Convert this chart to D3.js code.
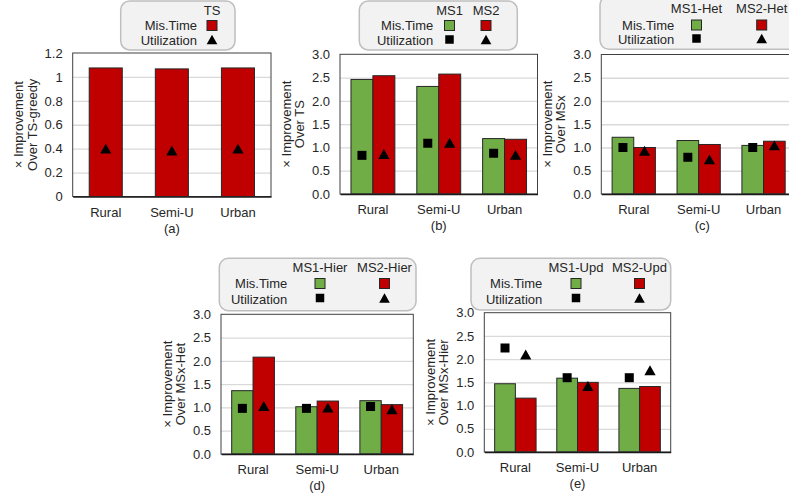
<!DOCTYPE html>
<html>
<head>
<meta charset="utf-8">
<script src="https://cdn.jsdelivr.net/npm/d3@7"></script>
<style>
  html, body { margin: 0; padding: 0; background: #fff; }
  svg { display: block; font-family: "Liberation Sans", Arial, sans-serif; }
  .tick text { font-size: 13px; fill: #262626; font-family: "Liberation Sans", Arial, sans-serif; }
</style>
</head>
<body>
<svg id="chart" width="789" height="501"></svg>
<script>
// ---- data ----
const categories = ["Rural", "Semi-U", "Urban"];

// (a) TS over TS-greedy
const tsMisTime = [1.075, 1.067, 1.075];
const tsUtil    = [0.40, 0.385, 0.40];

// (b) MS1 / MS2 over TS
const ms1MisTime = [2.46, 2.31, 1.19];
const ms2MisTime = [2.54, 2.575, 1.175];
const ms1Util    = [0.83, 1.09, 0.875];
const ms2Util    = [0.86, 1.10, 0.84];

// (c) MSx-Het over MSx
const het1MisTime = [1.22, 1.15, 1.045];
const het2MisTime = [1.00, 1.065, 1.135];
const het1Util    = [1.00, 0.79, 1.00];
const het2Util    = [0.93, 0.745, 1.045];

// (d) MSx-Hier over MSx-Het
const hier1MisTime = [1.36, 1.015, 1.145];
const hier2MisTime = [2.08, 1.137, 1.06];
const hier1Util    = [0.98, 0.98, 1.02];
const hier2Util    = [1.03, 1.00, 0.96];

// (e) MSx-Upd over MSx-Hier
const upd1MisTime = [1.47, 1.59, 1.37];
const upd2MisTime = [1.16, 1.50, 1.41];
const upd1Util    = [2.24, 1.60, 1.60];
const upd2Util    = [2.10, 1.42, 1.76];

const ticksA = [0, 0.2, 0.4, 0.6, 0.8, 1.0, 1.2];
const ticksB = [0, 0.5, 1.0, 1.5, 2.0, 2.5, 3.0];

const GREEN = "#70ad47", RED = "#c00000", INK = "#262626";

// ---- panel layout ----
const panels = [
  { caption: "(a)", captionX: null, title: ["× Improvement", "Over TS-greedy"],
    box: { l: 72.7, r: 271, t: 53, b: 196.5 }, yMax: 1.2, ticks: ticksA, fmt: d => d3.format("~g")(d),
    names: ["TS"], fills: [RED], misTime: [tsMisTime], util: [tsUtil], shapes: ["triangle"],
    legend: { l: 120.7, r: 235, t: 1, b: 50, head: 10, row1: 25.5, row2: 40.5, labelX: 197, cols: [212] } },
  { caption: "(b)", captionX: null, title: ["× Improvement", "Over TS"],
    box: { l: 340, r: 537.5, t: 54.3, b: 194 }, yMax: 3, ticks: ticksB, fmt: d3.format(".1f"),
    names: ["MS1", "MS2"], fills: [GREEN, RED], misTime: [ms1MisTime, ms2MisTime], util: [ms1Util, ms2Util],
    shapes: ["square", "triangle"],
    legend: { l: 359.3, r: 517.3, t: 1, b: 50, head: 10, row1: 25.5, row2: 40.5, labelX: 433.3, cols: [449.5, 486] } },
  { caption: "(c)", captionX: 101, title: ["× Improvement", "Over MSx"],
    box: { l: 601.3, r: 796, t: 54.5, b: 194 }, yMax: 3, ticks: ticksB, fmt: d3.format(".1f"),
    names: ["MS1-Het", "MS2-Het"], fills: [GREEN, RED], misTime: [het1MisTime, het2MisTime], util: [het1Util, het2Util],
    shapes: ["square", "triangle"],
    legend: { l: 600, r: 810, t: -4, b: 49.3, head: 8.5, row1: 25, row2: 39.5, labelX: 674.3, cols: [696.5, 761.7] } },
  { caption: "(d)", captionX: null, title: ["× Improvement", "Over MSx-Het"],
    box: { l: 221, r: 413.3, t: 314.3, b: 454 }, yMax: 3, ticks: ticksB, fmt: d3.format(".1f"),
    names: ["MS1-Hier", "MS2-Hier"], fills: [GREEN, RED], misTime: [hier1MisTime, hier2MisTime], util: [hier1Util, hier2Util],
    shapes: ["square", "triangle"],
    legend: { l: 219.3, r: 416, t: 258.3, b: 310.7, head: 267.3, row1: 283.5, row2: 299, labelX: 287.3, cols: [320, 384.5] } },
  { caption: "(e)", captionX: null, title: ["× Improvement", "Over MSx-Hier"],
    box: { l: 484.3, r: 670.7, t: 312.7, b: 452 }, yMax: 3, ticks: ticksB, fmt: d3.format(".1f"),
    names: ["MS1-Upd", "MS2-Upd"], fills: [GREEN, RED], misTime: [upd1MisTime, upd2MisTime], util: [upd1Util, upd2Util],
    shapes: ["square", "triangle"],
    legend: { l: 471, r: 670.7, t: 258.3, b: 310, head: 267.3, row1: 283.5, row2: 299, labelX: 542.3, cols: [576, 639.5] } }
];

const svg = d3.select("#chart");

// utilization marker: filled square or upward triangle centred on the origin
function marker(sel, shape, size) {
  if (shape === "square") {
    sel.append("rect")
      .attr("x", -size / 2).attr("y", -size / 2)
      .attr("width", size).attr("height", size)
      .attr("fill", "#000");
  } else {
    const w = size * 1.25, h = size * 1.1;
    sel.append("path")
      .attr("d", `M0,${-h / 2}L${w / 2},${h / 2}L${-w / 2},${h / 2}Z`)
      .attr("fill", "#000");
  }
}

panels.forEach(p => {
  const B = p.box;
  const W = B.r - B.l, H = B.b - B.t;
  const g = svg.append("g").attr("transform", `translate(${B.l},${B.t})`);

  const x = d3.scaleBand().domain(categories).range([0, W]).paddingInner(0).paddingOuter(0);
  const y = d3.scaleLinear().domain([0, p.yMax]).range([H, 0]);
  const n = p.names.length;
  // gap width 100%: bars fill n/(n+1) of each band
  const barW = x.bandwidth() / (n + 1);
  const sub = d3.scaleBand().domain(d3.range(n)).range([0, barW * n]);
  const groupOff = (x.bandwidth() - barW * n) / 2;

  // gridlines
  g.append("g")
    .call(d3.axisLeft(y).tickValues(p.ticks.filter(t => t > 0 && t < p.yMax)).tickSize(-W).tickFormat(""))
    .call(a => a.select(".domain").remove())
    .call(a => a.selectAll("line").attr("stroke", "#d9d9d9").attr("stroke-width", 1.3));

  // mission-time bars
  p.misTime.forEach((vals, si) => {
    g.append("g").selectAll("rect").data(vals).join("rect")
      .attr("x", (d, i) => x(categories[i]) + groupOff + sub(si))
      .attr("y", d => y(d))
      .attr("width", sub.bandwidth())
      .attr("height", d => H - y(d))
      .attr("fill", p.fills[si])
      .attr("stroke", INK).attr("stroke-width", 1);
  });

  // utilization markers
  p.util.forEach((vals, si) => {
    g.append("g").selectAll("g").data(vals).join("g")
      .attr("transform", (d, i) => `translate(${x(categories[i]) + groupOff + sub(si) + sub.bandwidth() / 2},${y(d)})`)
      .each(function () { marker(d3.select(this), p.shapes[si], 9); });
  });

  // plot frame
  g.append("rect").attr("width", W).attr("height", H)
    .attr("fill", "none").attr("stroke", "#404040").attr("stroke-width", 1);

  // y axis
  g.append("g")
    .call(d3.axisLeft(y).tickValues(p.ticks).tickSize(0).tickPadding(10).tickFormat(p.fmt))
    .call(a => a.select(".domain").remove());

  // x axis
  g.append("g").attr("transform", `translate(0,${H})`)
    .call(d3.axisBottom(x).tickSize(0).tickPadding(11))
    .call(a => a.select(".domain").attr("stroke", "#1a1a1a").attr("stroke-width", 1.5));

  // caption
  g.append("text")
    .attr("x", p.captionX != null ? p.captionX : W / 2)
    .attr("y", H + 36).attr("text-anchor", "middle")
    .attr("font-size", 13).attr("fill", INK).text(p.caption);

  // y title (two rotated lines)
  const ty = g.append("text").attr("transform", `translate(-49.5,${H / 2}) rotate(-90)`)
    .attr("text-anchor", "middle").attr("font-size", 13).attr("fill", INK);
  ty.append("tspan").attr("x", 0).attr("dy", 0).text(p.title[0]);
  ty.append("tspan").attr("x", 0).attr("dy", 13.5).text(p.title[1]);

  // legend
  const L = p.legend;
  const lg = svg.append("g");
  lg.append("rect").attr("x", L.l).attr("y", L.t).attr("width", L.r - L.l).attr("height", L.b - L.t)
    .attr("rx", 9).attr("fill", "#f2f2f2").attr("stroke", "#bfbfbf").attr("stroke-width", 1.5);
  lg.append("text").attr("x", L.labelX).attr("y", L.row1).attr("dy", "0.35em")
    .attr("text-anchor", "end").attr("font-size", 13).attr("fill", INK).text("Mis.Time");
  lg.append("text").attr("x", L.labelX).attr("y", L.row2).attr("dy", "0.35em")
    .attr("text-anchor", "end").attr("font-size", 13).attr("fill", INK).text("Utilization");
  p.names.forEach((name, si) => {
    const cx = L.cols[si];
    lg.append("text").attr("x", cx).attr("y", L.head).attr("dy", "0.35em")
      .attr("text-anchor", "middle").attr("font-size", 13).attr("fill", INK).text(name);
    lg.append("rect").attr("x", cx - 5).attr("y", L.row1 - 5).attr("width", 10).attr("height", 10)
      .attr("fill", p.fills[si]).attr("stroke", INK).attr("stroke-width", 1);
    const m = lg.append("g").attr("transform", `translate(${cx},${L.row2 - 1})`);
    marker(m, p.shapes[si], 8.5);
  });
});
</script>
</body>
</html>
